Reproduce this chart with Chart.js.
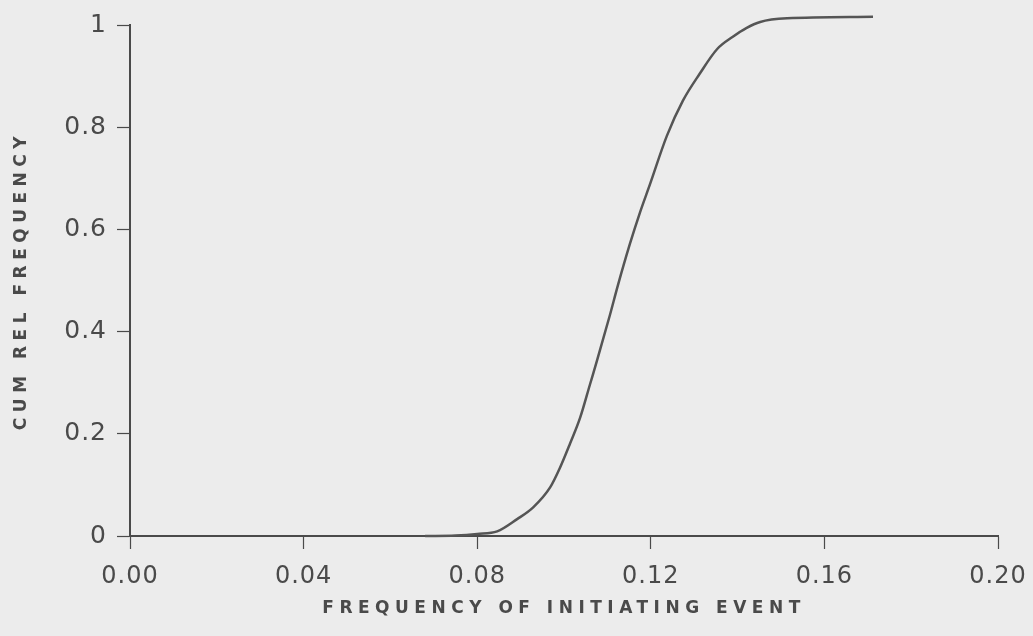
<!DOCTYPE html>
<html>
<head>
<meta charset="utf-8">
<title>Cumulative relative frequency</title>
<script src="https://cdn.jsdelivr.net/npm/chart.js@4/dist/chart.umd.min.js"></script>
<style>
  html, body { margin: 0; padding: 0; background: #ececec; }
  #chart { display: block; }
</style>
</head>
<body>
<canvas id="chart" width="1033" height="636"></canvas>
<script>
// values
const freqValues = [0.068, 0.075, 0.080, 0.0846, 0.0892, 0.0929, 0.0968, 0.0991, 0.1014, 0.1037,
                    0.1060, 0.1076, 0.1106, 0.1124, 0.1152, 0.1175, 0.1198, 0.1237, 0.1274,
                    0.1313, 0.1353, 0.1389, 0.1420, 0.1452, 0.1514, 0.1712];
const cumValues = [0, 0.001, 0.004, 0.009, 0.033, 0.056, 0.095, 0.134, 0.181, 0.231,
                   0.297, 0.343, 0.433, 0.490, 0.572, 0.633, 0.688, 0.783, 0.852,
                   0.905, 0.953, 0.977, 0.994, 1.006, 1.013, 1.016];

const xTickValues = [0, 0.04, 0.08, 0.12, 0.16, 0.20];
const xTickLabels = ['0.00', '0.04', '0.08', '0.12', '0.16', '0.20'];
const yTickValues = [0, 0.2, 0.4, 0.6, 0.8, 1];
const yTickLabels = ['0', '0.2', '0.4', '0.6', '0.8', '1'];

const xTitle = 'FREQUENCY OF INITIATING EVENT';
const yTitle = 'CUM REL FREQUENCY';

const ink = '#4a4a4a';

// titles get wide letter spacing, tick labels do not
const spacingPlugin = {
    id: 'spacing',
    beforeDraw(chart) { chart.ctx.letterSpacing = '5.5px'; },
    afterDatasetsDraw(chart) { chart.ctx.letterSpacing = '1px'; },
    afterDraw(chart) { chart.ctx.letterSpacing = '0px'; }
};

const points = freqValues.map((x, i) => ({ x: x, y: cumValues[i] }));

new Chart(document.getElementById('chart').getContext('2d'), {
    type: 'line',
    data: {
        datasets: [{
            data: points,
            borderColor: '#555',
            borderWidth: 2.5,
            pointRadius: 0,
            cubicInterpolationMode: 'monotone',
            fill: false,
            clip: false
        }]
    },
    options: {
        responsive: false,
        animation: false,
        layout: { padding: { top: 21, right: 35, left: 0, bottom: 0 } },
        plugins: { legend: { display: false }, tooltip: { enabled: false } },
        scales: {
            x: {
                type: 'linear',
                min: 0,
                max: 0.2,
                afterFit(scale) {
                    scale.height = 100;
                    // let the layout padding alone decide where the axis ends
                    scale.paddingLeft = 0;
                    scale.paddingRight = 0;
                },
                afterBuildTicks(scale) { scale.ticks = xTickValues.map(v => ({ value: v })); },
                grid: { drawOnChartArea: false, tickLength: 13, tickWidth: 1.2, tickColor: ink },
                border: { display: true, color: ink, width: 2 },
                ticks: {
                    z: 1,
                    padding: 13,
                    color: ink,
                    font: { family: 'DejaVu Sans', size: 24 },
                    maxRotation: 0,
                    callback: (v, i) => xTickLabels[i]
                },
                title: {
                    display: true,
                    text: xTitle,
                    color: ink,
                    font: { family: 'DejaVu Sans', size: 17, weight: 'bold' },
                    padding: { top: 0, bottom: 17 }
                }
            },
            y: {
                type: 'linear',
                min: 0,
                max: 1,
                afterFit(scale) { scale.width = 130; },
                afterBuildTicks(scale) { scale.ticks = yTickValues.map(v => ({ value: v })); },
                grid: { drawOnChartArea: false, tickLength: 13, tickWidth: 1.2, tickColor: ink },
                border: { display: true, color: ink, width: 2 },
                ticks: {
                    z: 1,
                    padding: 10,
                    color: ink,
                    font: { family: 'DejaVu Sans', size: 25 },
                    callback: (v, i) => yTickLabels[i]
                },
                title: {
                    display: true,
                    text: yTitle,
                    color: ink,
                    font: { family: 'DejaVu Sans', size: 17, weight: 'bold' },
                    padding: { top: 11, bottom: 0 }
                }
            }
        }
    },
    plugins: [spacingPlugin]
});
</script>
</body>
</html>
